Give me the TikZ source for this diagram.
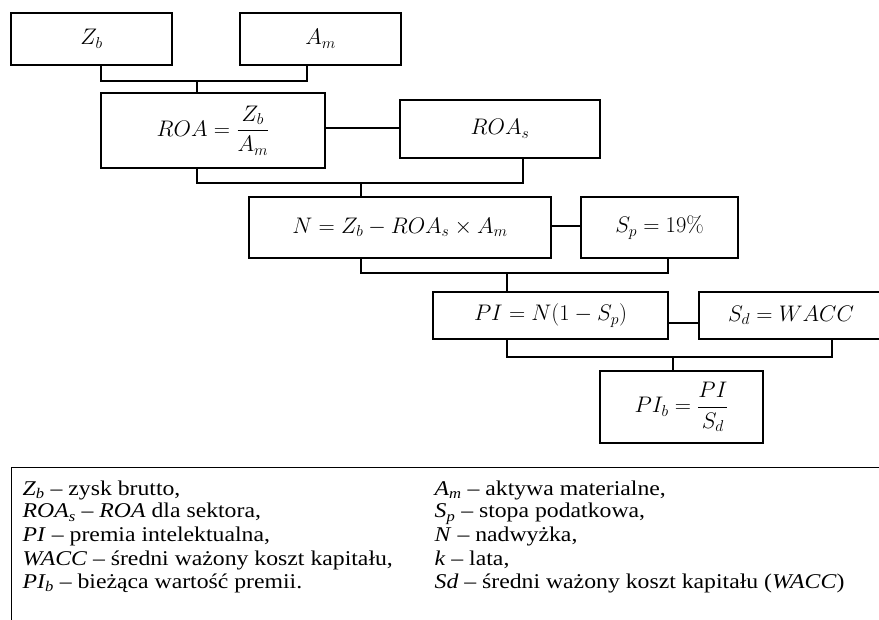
\documentclass[tikz,border=0pt]{standalone}
\usepackage{fix-cm}
\usepackage[no-math]{fontspec}
\setmainfont{Liberation Serif}[FakeStretch=1.13]
\usepackage{amsmath}
\begin{document}
\begin{tikzpicture}[x=1pt,y=-1pt, line width=1.3pt,
  box/.style={draw, inner sep=0pt, font=\fontsize{22.5}{26}\selectfont},
  leg/.style={anchor=base west, inner sep=0pt, font=\fontsize{21}{23}\selectfont}]
\useasboundingbox (0,0) rectangle (879,620);
\clip (0,0) rectangle (879,620);
% boxes
\node[box, minimum width=161pt, minimum height=52pt] (zb) at (91.5,39) {$Z_b$};
\node[box, minimum width=161pt, minimum height=52pt] (am) at (320.5,39) {$A_m$};
\node[box, minimum width=224pt, minimum height=75pt] (roa) at (213,130.5) {$ROA=\dfrac{Z_b}{A_m}$};
\node[box, minimum width=200pt, minimum height=58pt] (roas) at (500,129) {$ROA_s$};
\node[box, minimum width=302pt, minimum height=61pt] (n) at (400,227.5) {$N=Z_b-ROA_s\times A_m$};
\node[box, minimum width=157pt, minimum height=61pt] (sp) at (659.5,227.5) {$S_p=19\%$};
\node[box, minimum width=235pt, minimum height=47pt] (pi) at (550.5,315.5) {$PI=N(1-S_p)$};
\node[box, minimum width=184pt, minimum height=47pt] (sd) at (791,315.5) {$S_d=WACC$};
\node[box, minimum width=163pt, minimum height=72pt] (pib) at (681.5,407) {$PI_b=\dfrac{PI}{S_d}$};
% junction coordinates
\coordinate (b1l) at (101,81); \coordinate (b1r) at (307,81); \coordinate (b1m) at (197,81);
\coordinate (b2l) at (197,183); \coordinate (b2r) at (523,183); \coordinate (b2m) at (361,183);
\coordinate (b3l) at (361,273); \coordinate (b3r) at (668,273); \coordinate (b3m) at (507,273);
\coordinate (b4l) at (507,357); \coordinate (b4r) at (832,357); \coordinate (b4m) at (673,357);
\coordinate (l1) at (0,128); \coordinate (l2) at (0,226); \coordinate (l3) at (0,323);
% connectors
\draw (zb.south -| b1l) -- (b1l) -- (b1r) -- (am.south -| b1r);
\draw (b1m) -- (roa.north -| b1m);
\draw (roa.east |- l1) -- (roas.west |- l1);
\draw (roa.south -| b2l) -- (b2l) -- (b2r) -- (roas.south -| b2r);
\draw (b2m) -- (n.north -| b2m);
\draw (n.east |- l2) -- (sp.west |- l2);
\draw (n.south -| b3l) -- (b3l) -- (b3r) -- (sp.south -| b3r);
\draw (b3m) -- (pi.north -| b3m);
\draw (pi.east |- l3) -- (sd.west |- l3);
\draw (pi.south -| b4l) -- (b4l) -- (b4r) -- (sd.south -| b4r);
\draw (b4m) -- (pib.north -| b4m);
% legend
\node[draw, anchor=north west, minimum width=900pt, minimum height=200pt] (legend) at (11,467) {};
\node[leg] (t1) at (22,495) {\textit{Z\textsubscript{b}} – zysk brutto,};
\node[leg] (t2) at (22,518) {\textit{ROA\textsubscript{s}} – \textit{ROA} dla sektora,};
\node[leg] (t3) at (22,541) {\textit{PI} – premia intelektualna,};
\node[leg] (t4) at (22,565) {\textit{WACC} – średni ważony koszt kapitału,};
\node[leg] (t5) at (22,588) {\textit{PI\textsubscript{b}} – bieżąca wartość premii.};
\node[leg] (r1) at (434,495) {\textit{A\textsubscript{m}} – aktywa materialne,};
\node[leg] (r2) at (434,518) {\textit{S\textsubscript{p}} – stopa podatkowa,};
\node[leg] (r3) at (434,541) {\textit{N} – nadwyżka,};
\node[leg] (r4) at (434,565) {\textit{k} – lata,};
\node[leg] (r5) at (434,588) {\textit{Sd} – średni ważony koszt kapitału (\textit{WACC})};
\end{tikzpicture}
\end{document}
